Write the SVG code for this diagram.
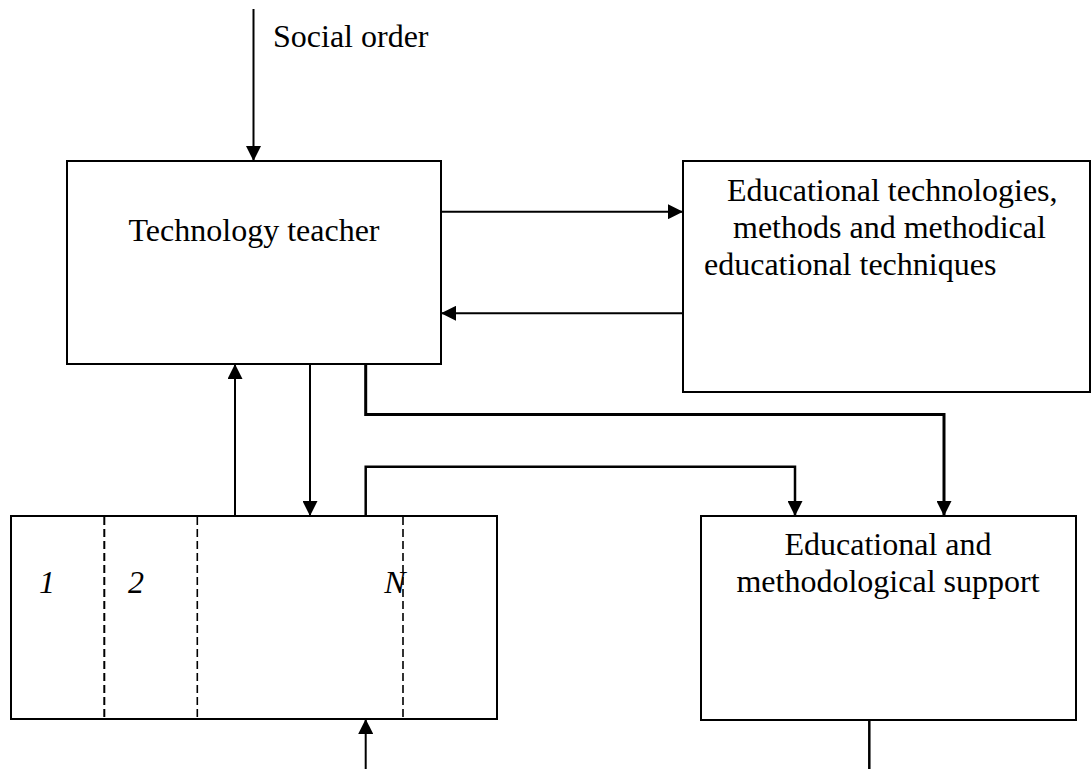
<svg xmlns="http://www.w3.org/2000/svg" width="1092" height="769" viewBox="0 0 1092 769">
  <style>
    .box { fill: #ffffff; stroke: #000000; stroke-width: 2; }
    .conn { fill: none; stroke: #000000; stroke-width: 2; }
    .thick { stroke-width: 3; }
    .mid { stroke-width: 2.5; }
    .dash { fill: none; stroke: #000000; stroke-width: 1.6; stroke-dasharray: 8 4; }
    .t { font-family: "Liberation Serif", "Times New Roman", serif; font-size: 32px; fill: #000000; }
    .it { font-style: italic; }
  </style>
  <defs>
    <marker id="arr" viewBox="0 0 15 15" refX="15" refY="7.5" markerWidth="15" markerHeight="15" markerUnits="userSpaceOnUse" orient="auto">
      <path d="M0,0 L15,7.5 L0,15 z" fill="#000000"/>
    </marker>
  </defs>
  <rect width="1092" height="769" fill="#ffffff"/>

  <g id="teacher">
    <rect class="box" x="67" y="161" width="374" height="203"/>
    <text class="t" x="254" y="241" text-anchor="middle">Technology teacher</text>
  </g>

  <g id="technologies">
    <rect class="box" x="683" y="161" width="407" height="231"/>
    <text class="t" x="727" y="201">Educational technologies,</text>
    <text class="t" x="733" y="238">methods and methodical</text>
    <text class="t" x="704" y="275">educational techniques</text>
  </g>

  <g id="students">
    <rect class="box" x="11" y="516" width="486" height="203"/>
    <line class="dash" x1="104.3" y1="517" x2="104.3" y2="718" style="stroke-width:2"/>
    <line class="dash" x1="197.3" y1="517" x2="197.3" y2="718"/>
    <line class="dash" x1="403" y1="517" x2="403" y2="718"/>
    <text class="t it" x="47" y="593" text-anchor="middle">1</text>
    <text class="t it" x="136" y="593" text-anchor="middle">2</text>
    <text class="t it" x="395" y="593" text-anchor="middle">N</text>
  </g>

  <g id="support">
    <rect class="box" x="701" y="516" width="375" height="204"/>
    <text class="t" x="888" y="555" text-anchor="middle">Educational and</text>
    <text class="t" x="888" y="592" text-anchor="middle">methodological support</text>
  </g>

  <g id="social-order-label">
    <text class="t" x="273" y="47">Social order</text>
  </g>

  <g id="connectors">
    <line class="conn" x1="253.5" y1="9" x2="253.5" y2="161" marker-end="url(#arr)"/>
    <line class="conn" x1="441" y1="211.7" x2="683" y2="211.7" marker-end="url(#arr)"/>
    <line class="conn" x1="683" y1="313.3" x2="441" y2="313.3" marker-end="url(#arr)"/>
    <line class="conn" x1="235" y1="516" x2="235" y2="364" marker-end="url(#arr)"/>
    <line class="conn" x1="310" y1="364" x2="310" y2="516" marker-end="url(#arr)"/>
    <path class="conn thick" d="M365.7,364 V414.5 H944 V516" marker-end="url(#arr)"/>
    <path class="conn mid" d="M365.7,516 V466.7 H795 V516" marker-end="url(#arr)"/>
    <line class="conn" x1="365.7" y1="769" x2="365.7" y2="719" marker-end="url(#arr)"/>
    <line class="conn mid" x1="869.3" y1="720" x2="869.3" y2="769"/>
  </g>
</svg>
